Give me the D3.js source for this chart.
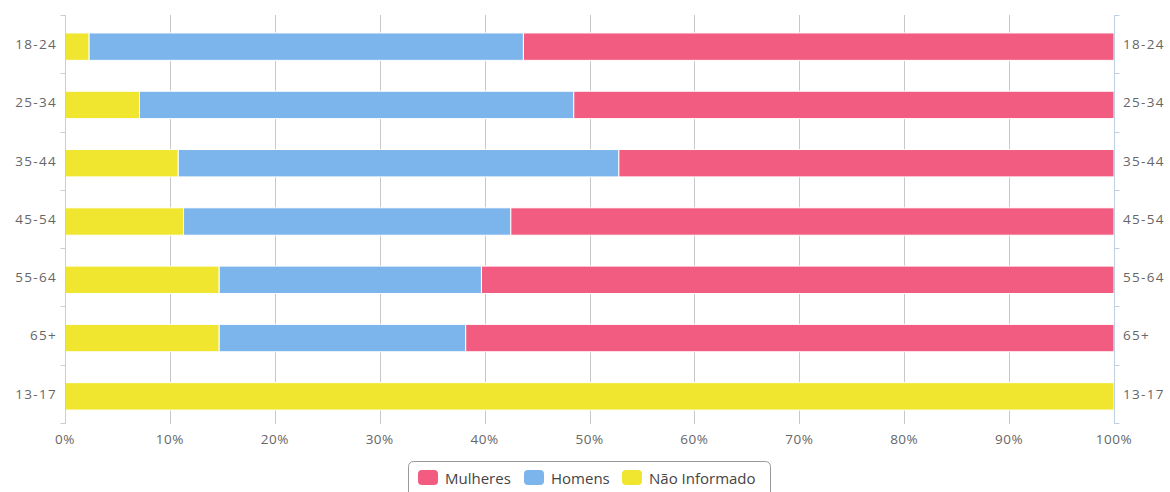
<!DOCTYPE html>
<html><head><meta charset="utf-8">
<script src="https://cdn.jsdelivr.net/npm/d3@7"></script>
<style>
body{margin:0;background:#fff;}
svg{display:block;font-family:"Open Sans","DejaVu Sans",sans-serif;}
</style></head>
<body><svg id="c" width="1170" height="492"></svg>
<script>
const categories = ["18-24","25-34","35-44","45-54","55-64","65+","13-17"];
const naoInformado = [2.3, 7.1, 10.8, 11.3, 14.7, 14.7, 100];
const homens = [41.4, 41.4, 42.0, 31.2, 25.0, 23.5, 0];
const mulheres = [56.3, 51.5, 47.2, 57.5, 60.3, 61.8, 0];
const xTicks = [0,10,20,30,40,50,60,70,80,90,100];
const seriesNames = ["Mulheres","Homens","Não Informado"];
const colors = {"Mulheres":"#f15c80","Homens":"#7cb5ec","Não Informado":"#f1e62f"};

const svg = d3.select("#c");
const L = 65, R = 1114, T = 15, B = 423;
const x = d3.scaleLinear().domain([0,100]).range([L,R]);
const y = d3.scaleBand().domain(categories).range([T,B]);
// bars sit slightly below band centre, as in the reference
const yBar = d3.scaleBand().domain(categories).range([T+2.5,B+2.5]).paddingInner(0.53).paddingOuter(0.265);

// gridlines
svg.append("g").selectAll("line").data(xTicks.slice(1, -1)).join("line")
  .attr("x1", d=>Math.round(x(d))+0.5).attr("x2", d=>Math.round(x(d))+0.5).attr("y1", T).attr("y2", B+1)
  .attr("stroke", "#c8c8c8").attr("stroke-width", 1);

const rows = categories.map((c,i)=>({cat:c,"Não Informado":naoInformado[i],"Homens":homens[i],"Mulheres":mulheres[i]}));
const stack = d3.stack().keys(["Não Informado","Homens","Mulheres"])(rows);
svg.append("g").selectAll("g").data(stack).join("g")
  .attr("fill", d=>colors[d.key])
  .selectAll("rect").data(d=>d).join("rect")
  .attr("x", d=>x(d[0])).attr("width", d=>Math.max(0, x(d[1])-x(d[0])))
  .attr("y", d=>yBar(d.data.cat)).attr("height", yBar.bandwidth())
  .attr("stroke", "#fff").attr("stroke-width", 1);

function sideAxis(xPos, dir, anchor, labelX){
  const g = svg.append("g");
  g.append("line").attr("x1", xPos+0.5).attr("x2", xPos+0.5).attr("y1", T).attr("y2", B+1)
    .attr("stroke", "#c0d0e0");
  const edges = categories.map(c=>y(c)).concat([B]);
  g.selectAll("line.t").data(edges).join("line")
    .attr("class","t").attr("x1", xPos+0.5).attr("x2", xPos+0.5+dir*5).attr("y1", d=>Math.round(d)+0.5).attr("y2", d=>Math.round(d)+0.5)
    .attr("stroke", "#c0d0e0");
  g.selectAll("text").data(categories).join("text")
    .attr("x", labelX).attr("y", d=>y(d)+y.bandwidth()/2).attr("dy","0.36em")
    .attr("text-anchor", anchor).attr("fill", "#666").attr("font-size", "13.5px")
    .attr("letter-spacing", "1.3px").text(d=>d);
}
sideAxis(L, -1, "end", 57);
sideAxis(R, 1, "start", 1123);

svg.append("g").selectAll("text").data(xTicks).join("text")
  .attr("x", d=>x(d)).attr("y", 444).attr("text-anchor","middle")
  .attr("fill","#666").attr("font-size","13.5px").attr("letter-spacing","0.5px").text(d=>d+"%");

const lg = svg.append("g");
lg.append("rect").attr("x", 408.5).attr("y", 461.5).attr("width", 362).attr("height", 40).attr("rx", 5)
  .attr("fill", "#fff").attr("stroke", "#999");
const items = [{n:"Mulheres",x:418},{n:"Homens",x:524},{n:"Não Informado",x:622}];
items.forEach(it=>{
  lg.append("rect").attr("x", it.x).attr("y", 470).attr("width", 20).attr("height", 15).attr("rx", 4)
    .attr("fill", colors[it.n]);
  lg.append("text").attr("x", it.x+27).attr("y", 484).attr("fill", "#444").attr("font-size","15px").text(it.n);
});
</script></body></html>
